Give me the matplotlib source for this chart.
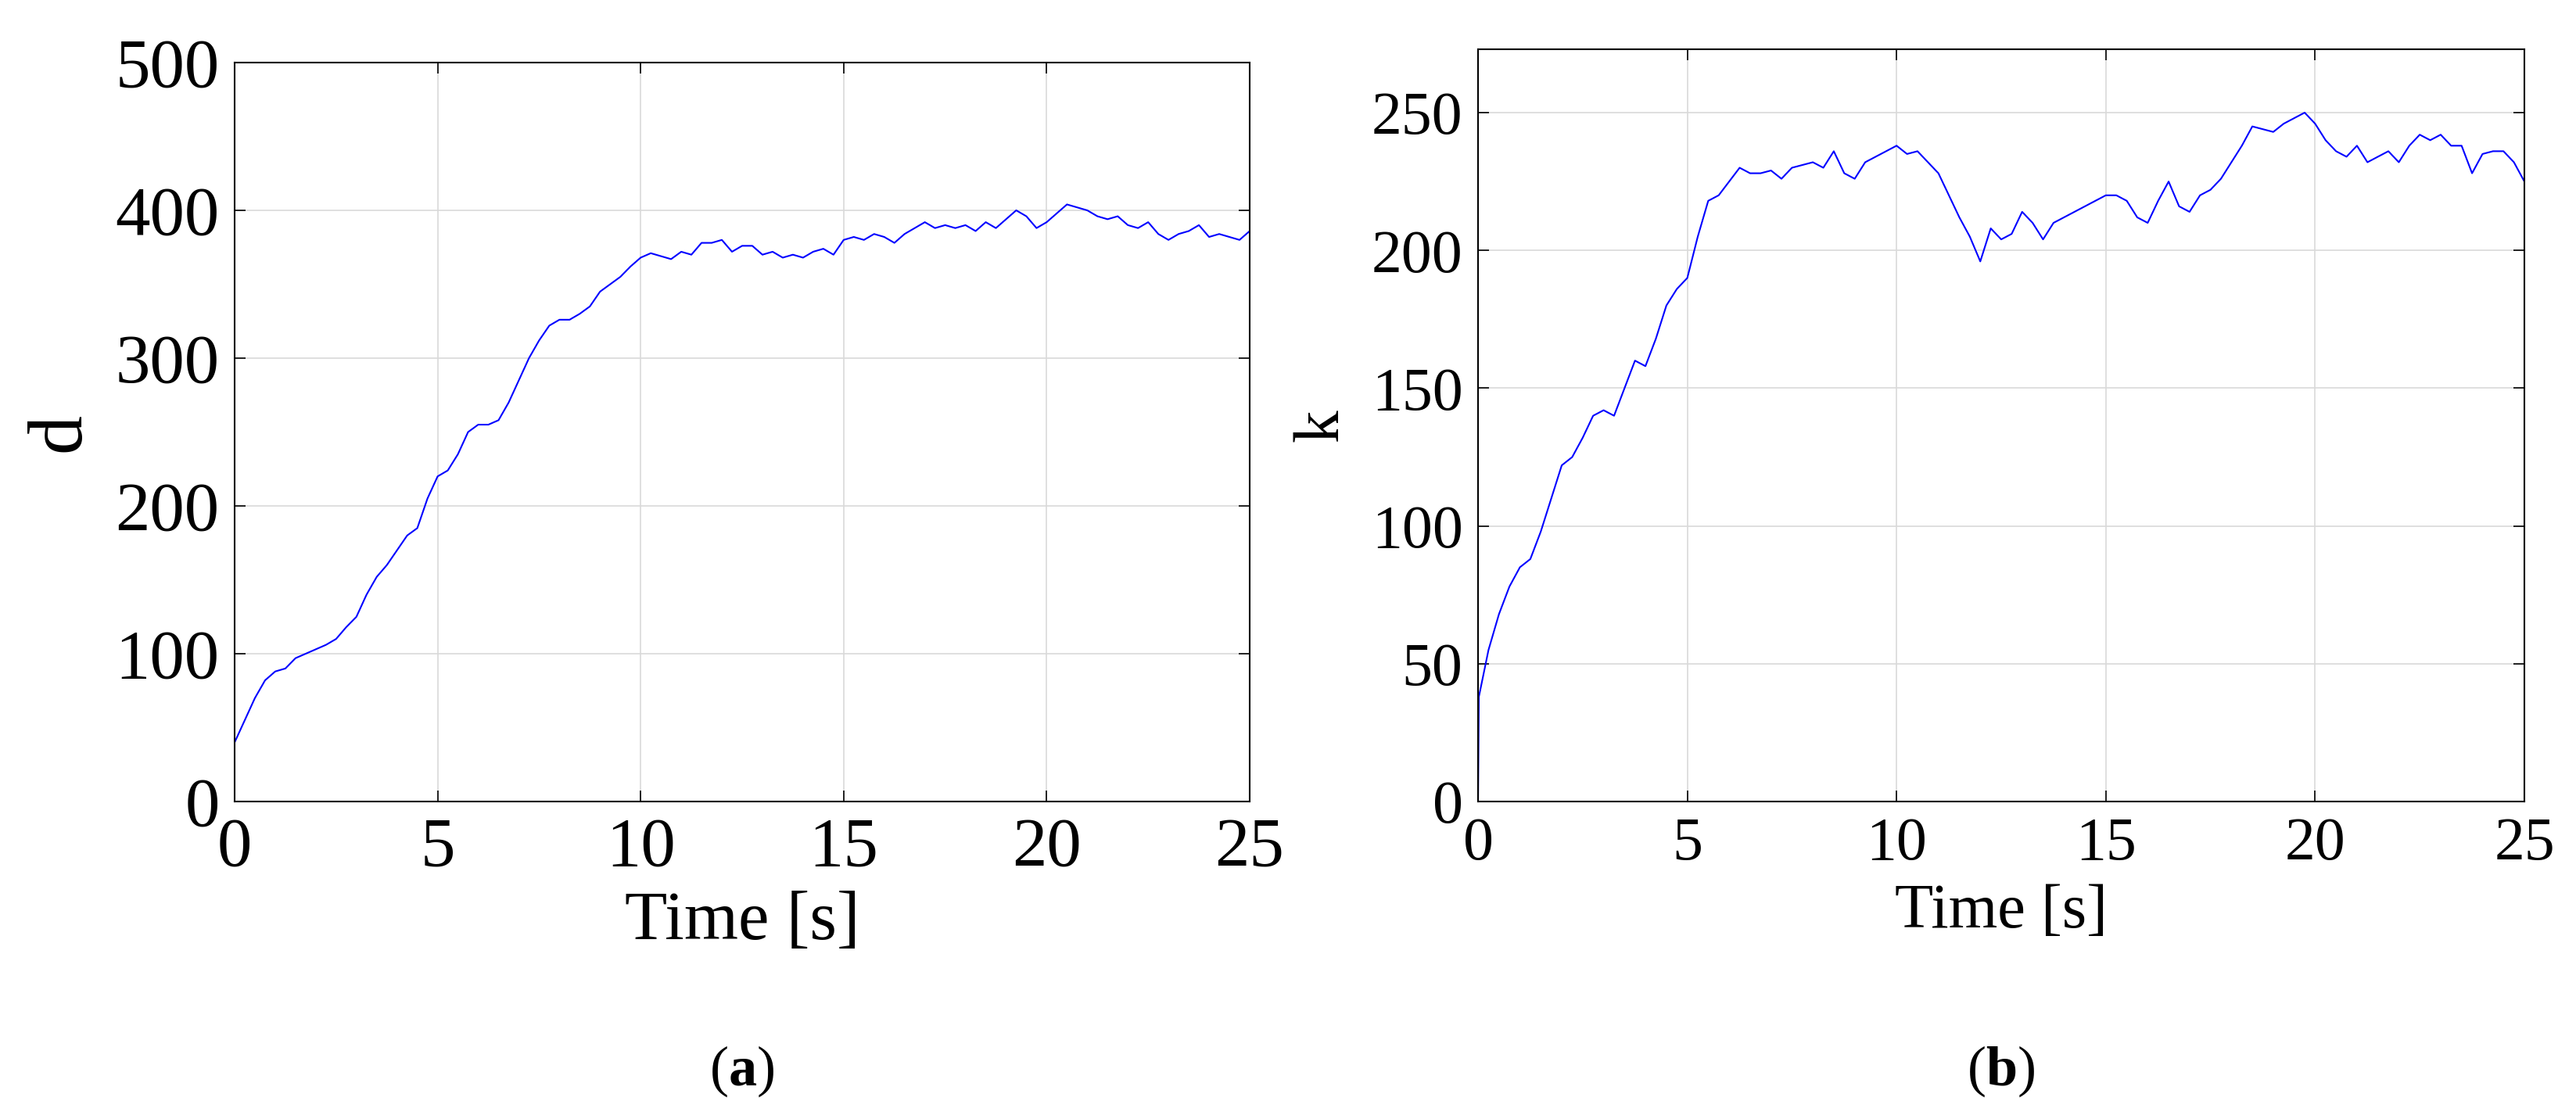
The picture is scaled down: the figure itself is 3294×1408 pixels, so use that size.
import numpy as np
import matplotlib
matplotlib.use("Agg")
import matplotlib.pyplot as plt

t_d = [i*0.25 for i in range(101)]
d_vals = [40,55,70,82,88,90,97,100,103,106,110,118,125,140,152,160,170,180,185,205,
          220,224,235,250,255,255,258,270,285,300,312,322,326,326,330,335,345,350,355,362,
          368,371,369,367,372,370,378,378,380,372,376,376,370,372,368,370,368,372,374,370,
          380,382,380,384,382,378,384,388,392,388,390,388,390,386,392,388,394,400,396,388,
          392,398,404,402,400,396,394,396,390,388,392,384,380,384,386,390,382,384,382,380,386]

t_k = [0, 0.02] + [i*0.25 for i in range(1, 101)]
k_vals = [0,38,55,68,78,85,88,98,110,122,125,132,140,142,140,150,160,158,168,180,186,
          190,205,218,220,225,230,228,228,229,226,230,231,232,230,236,228,226,232,234,236,
          238,235,236,232,228,220,212,205,196,208,204,206,214,210,204,210,212,214,216,218,
          220,220,218,212,210,218,225,216,214,220,222,226,232,238,245,244,243,246,248,250,
          246,240,236,234,238,232,234,236,232,238,242,240,242,238,238,228,235,236,236,232,225]

plt.rcParams['font.family'] = ['Liberation Serif', 'DejaVu Serif']
plt.rcParams['mathtext.fontset'] = 'custom'
plt.rcParams['mathtext.rm'] = 'Liberation Serif'
plt.rcParams['mathtext.bf'] = 'Liberation Serif:bold'
fig = plt.figure(figsize=(32.94, 14.08), dpi=100)
W, H = 3294, 1408
ax1 = fig.add_axes([300/W, 1-1025/H, 1298/W, 945/H])
ax2 = fig.add_axes([1890/W, 1-1025/H, 1338/W, 962/H])

for ax, t, y in ((ax1, t_d, d_vals), (ax2, t_k, k_vals)):
    ax.plot(t, y, color='#0000ff', lw=1.5)
    ax.set_xlim(0, 25)
    ax.set_xticks([0, 5, 10, 15, 20, 25])
    ax.grid(True, color='#d9d9d9', lw=1.2)
    ax.tick_params(direction='in', length=10, width=1.2, top=True, right=True)
    for s in ax.spines.values():
        s.set_linewidth(1.5)

ax1.set_ylim(0, 500)
ax1.set_yticks(range(0, 501, 100))
ax1.tick_params(labelsize=64, pad=14)
ax1.set_ylabel('d', fontsize=72, labelpad=18)
ax1.set_xlabel('Time [s]', fontsize=64, labelpad=10)

ax2.set_ylim(0, 273)
ax2.set_yticks(range(0, 251, 50))
ax2.tick_params(labelsize=56, pad=14)
ax2.set_ylabel('k', fontsize=60, labelpad=18)
ax2.set_xlabel('Time [s]', fontsize=58, labelpad=10)

fig.text((300+1598)/2/W, 1-1370/H, r'($\mathbf{a}$)', ha='center', va='center', fontsize=52)
fig.text((1890+3228)/2/W, 1-1370/H, r'($\mathbf{b}$)', ha='center', va='center', fontsize=52)
fig.savefig('out.png', dpi=100)
